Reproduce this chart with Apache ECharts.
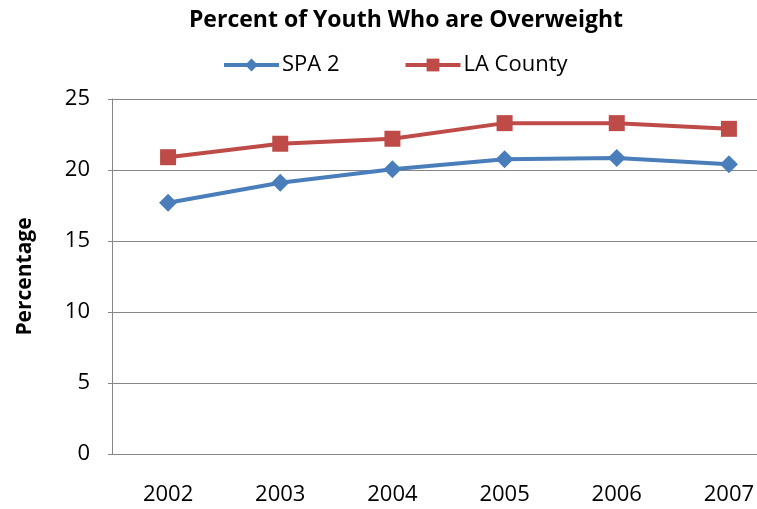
<!DOCTYPE html>
<html><head><meta charset="utf-8">
<script src="https://cdn.jsdelivr.net/npm/echarts@6/dist/echarts.min.js"></script>
<style>html,body{margin:0;padding:0;background:#fff;overflow:hidden}#c{width:757px;height:509px}</style>
</head><body><div id="c"></div>
<script>
var categories = ['2002','2003','2004','2005','2006','2007'];
var spa2 = [17.7, 19.1, 20.05, 20.75, 20.85, 20.4];
var laCounty = [20.9, 21.85, 22.2, 23.3, 23.3, 22.9];
var yTicks = [0, 5, 10, 15, 20, 25];

var FONT = '"Open Sans", "Liberation Sans", sans-serif';
var chart = echarts.init(document.getElementById('c'));
chart.setOption({
  animation: false,
  backgroundColor: '#fff',
  title: {
    text: 'Percent of Youth Who are Overweight',
    left: 401, top: 4, textAlign: 'center',
    textStyle: {fontFamily: FONT, fontWeight: 'bold', fontSize: 23, color: '#000'}
  },
  legend: {
    top: 49, left: 217, itemGap: 64, itemWidth: 55, itemHeight: 16,
    lineStyle: {width: 4},
    textStyle: {fontFamily: FONT, fontSize: 22, color: '#000', padding: [0,0,0,-2]},
    data: ['SPA 2', 'LA County']
  },
  grid: {left: 112, right: -28, top: 99, bottom: 55, containLabel: false, outerBoundsMode: 'none'},
  xAxis: {
    type: 'category', data: categories, boundaryGap: true,
    axisLine: {lineStyle: {color: '#868686', width: 1}},
    axisTick: {show: false},
    axisLabel: {margin: 30, fontFamily: FONT, fontSize: 22, color: '#000'}
  },
  yAxis: {
    type: 'value', min: 0, max: 25, interval: 5,
    name: 'Percentage', nameLocation: 'middle', nameGap: 76, nameRotate: 90,
    nameTextStyle: {fontFamily: FONT, fontWeight: 'bold', fontSize: 21, color: '#000'},
    axisLine: {show: true, lineStyle: {color: '#868686'}},
    axisTick: {show: true, length: 4, lineStyle: {color: '#868686'}},
    axisLabel: {margin: 22, fontFamily: FONT, fontSize: 22, color: '#000',
      formatter: function(v){ return yTicks.indexOf(v) >= 0 ? String(v) : ''; }},
    splitLine: {lineStyle: {color: '#868686', width: 1}}
  },
  series: [
    {name: 'SPA 2', type: 'line', data: spa2, symbol: 'diamond', symbolSize: 18,
     lineStyle: {color: '#4A7EBB', width: 4}, itemStyle: {color: '#4A7EBB'}},
    {name: 'LA County', type: 'line', data: laCounty, symbol: 'rect', symbolSize: 16,
     lineStyle: {color: '#BE4B48', width: 4}, itemStyle: {color: '#BE4B48'}}
  ]
});
</script></body></html>
